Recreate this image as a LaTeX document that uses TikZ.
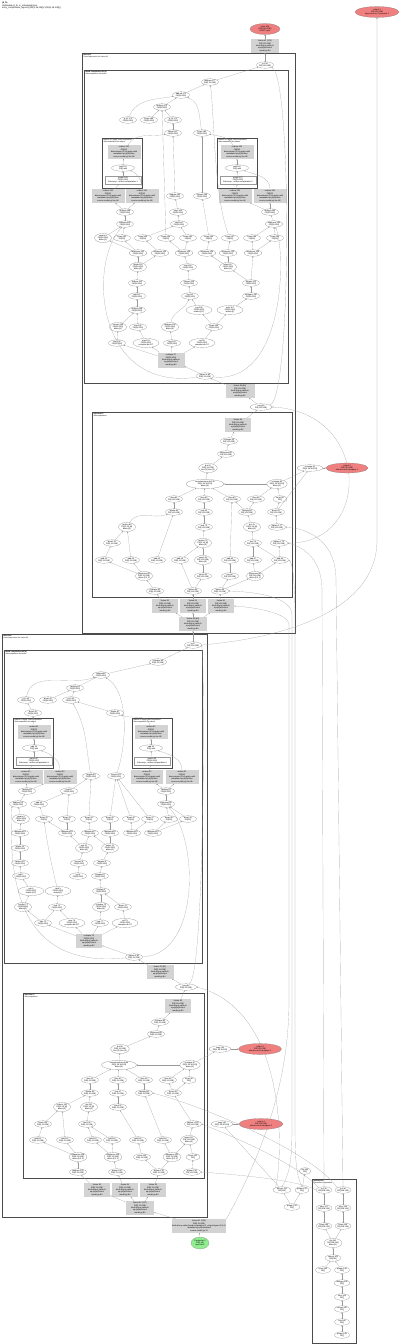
\documentclass[tikz,border=0pt]{standalone}
\usepackage{fontspec}
\setmainfont{Liberation Sans}
\usetikzlibrary{shapes.geometric,arrows.meta}
\definecolor{redfill}{HTML}{F08080}
\definecolor{greenfill}{HTML}{90EE90}
\definecolor{grayfill}{HTML}{D3D3D3}
\newcommand{\tnf}{\fontsize{2}{2.3}\selectfont}
\newcommand{\glr}[2]{#1\\#2\\kind=kLoop calls=fc\\op=jit(fn)/ln/mul\\model.py:84}
\newcommand{\grd}[2]{#1\\#2\\dimensions=\{1\} to.apply=add\\metadata op=jit(fn)/sum\\source model.py line 88}
\begin{document}
\begin{tikzpicture}[x=1pt,y=-1pt,font=\tnf,
 el/.style={ellipse,draw=black!55,line width=0.15pt,inner sep=0pt,minimum width=17,minimum height=6.5,align=center},
 elt/.style={el,minimum height=9},
 elw/.style={el,minimum width=26},
 gbox/.style={rectangle,fill=grayfill,draw=none,inner sep=0.4pt,align=center,minimum width=26,minimum height=13.5},
 wbox/.style={rectangle,draw=black!40,line width=0.15pt,inner sep=0.4pt,align=center,minimum width=36,minimum height=8},
 rnode/.style={el,fill=redfill,minimum width=30,minimum height=11},
 gnode/.style={el,fill=greenfill,minimum width=18,minimum height=12},
 clo/.style={draw=black!70,line width=0.6pt},
 cli/.style={draw=black!70,line width=0.55pt},
 cls/.style={draw=black!70,line width=0.5pt},
 clab/.style={anchor=north west,align=left,inner sep=0.3pt,font=\fontsize{1.8}{2.1}\selectfont},
 ed/.style={draw=black!40,line width=0.15pt,-{Stealth[length=1.4pt,width=1.2pt]}}]
\useasboundingbox (0,0) rectangle (400,1344);

% ---------- clusters ----------
\draw[clo] (82,53) rectangle (295,633);
\node[clab] (lC1) at (83,54) {\textbf{fusion.41}\\Fused expression for fusion.41};
\draw[cli] (84,70) rectangle (288,383);
\node[clab] (lC1a) at (85,71) {\textbf{fused.computation.41 (9)}\\Subcomputation for fusion};
\draw[cls] (102,138) rectangle (142,188);
\node[clab] (lS1) at (103,139) {reduce.161 apply: add.computation\\Subcomputation for reduce};
\draw[cls] (217,138) rectangle (257,188);
\node[clab] (lS2) at (218,139) {reduce.162 apply: add.computation\\Subcomputation for reduce};
\draw[cli] (92,412) rectangle (292,597);
\node[clab] (lC1b) at (93,413) {\textbf{attention.87}\\Subcomputation};
\draw[clo] (2,634) rectangle (207,1217);
\node[clab] (lC2) at (3,635) {\textbf{fusion.40}\\Fused expression for fusion.40};
\draw[cli] (4,650) rectangle (202,963);
\node[clab] (lC2a) at (5,651) {\textbf{fused.computation.40 (8)}\\Subcomputation for fusion};
\draw[cls] (13,718) rectangle (53,768);
\node[clab] (lS3) at (14,719) {reduce.61 apply: add.computation\\Subcomputation for reduce};
\draw[cls] (132,718) rectangle (172,768);
\node[clab] (lS4) at (133,719) {reduce.62 apply: add.computation\\Subcomputation for reduce};
\draw[cli] (23,993) rectangle (204,1178);
\node[clab] (lC2b) at (24,994) {\textbf{attention.27}\\Subcomputation};
\draw[cli] (312,1179) rectangle (356,1343);
\node[clab] (lC3) at (313,1180) {\textbf{param.pack}\\Parameter computation};

% ---------- top level ----------
\node[anchor=north west,align=left,inner sep=0pt,font=\fontsize{2.2}{2.6}\selectfont] (hdr) at (2,2) {\textbf{jit\_fn}\\HloModule jit\_fn, is\_scheduled=true\\entry\_computation\_layout=\{(f32[1,18,128])->(f32[1,18,128])\}};
\node[rnode] (outA) at (265,29) {tuple.180\\(f32[1,18,128])\\ROOT tuple};
\node[rnode,minimum width=44] (outB) at (377,12) {output.1\\f32[1,18,128]\\layernorm.out, transpose.1};
\node[gbox,minimum width=28] (tf1) at (265,46) {\glr{fusion.41 (179)}{f32[1,18,128]}};

% ---------- C1a ----------
\node[el] (c1ip) at (265,65) {ip.108\\f32[1,18,128]};
\node[el] (a1) at (210,82) {reshape.177\\f32[1,18,128]};
\node[el] (a2) at (181,95) {add.ad.171\\f32[18,128]};
\node[el] (a3) at (162,107) {multiply.170\\f32[18,128]};
\node[el] (a4) at (128,120) {p.12.173\\f32[18,128]};
\node[el] (a5) at (149,120) {bcast.169\\f32[18,128]};
\node[el] (a6) at (173,120) {p.13.172\\f32[18,128]};
\node[el] (a7) at (173,133) {divide.167\\f32[18,128]};
\node[el] (a8) at (202,133) {bcast.165\\f32[18,128]};
\node[gbox,minimum width=33] (s1g) at (124,152) {\grd{reduce.161}{f32[18]}};
\node[el,minimum width=23] (s1e) at (123,168) {add.159\\f32[] add};
\node[wbox] (s1w) at (123,180) {param.158\\f32[18,128]\\Subcomp.: reduce.computation.1};
\node[gbox,minimum width=33] (s2g) at (237,152) {\grd{reduce.162}{f32[18]}};
\node[el,minimum width=23] (s2e) at (237,168) {add.160\\f32[] add};
\node[wbox] (s2w) at (238,180) {param.157\\f32[18,128]\\Subcomp.: reduce.computation.2};
\node[gbox,minimum width=33] (g1) at (108,196) {\grd{reduce.153}{f32[18]}};
\node[gbox,minimum width=33] (g2) at (142,196) {\grd{reduce.154}{f32[18]}};
\node[gbox,minimum width=33] (g3) at (235,196) {\grd{reduce.155}{f32[18]}};
\node[gbox,minimum width=33] (g4) at (270,196) {\grd{reduce.156}{f32[18]}};
\node[el] (b1) at (175,196) {negate.160\\f32[18,128]};
\node[el] (b2) at (202,196) {convert.163\\f32[18,128]};
\node[el] (c1) at (125,212) {multiply.148\\f32[18,128]};
\node[el] (c2) at (178,212) {rsqrt.146\\f32[18,128]};
\node[el] (c3) at (270,212) {multiply.150\\f32[18,128]};
\node[el] (d1) at (125,224) {subtract.145\\f32[18,128]};
\node[el] (d2) at (179,224) {add.144\\f32[18,128]};
\node[el] (d3) at (274,224) {exponent.149\\f32[18,128]};
\node[elt] (e1) at (103,238) {param.3\\f32[18,128]\\dims=\{1\}};
\foreach \i/\x in {2/122,3/143,4/166,5/188,6/209,7/230,8/252,9/275}
  \node[el] (e\i) at (\x,238) {bcast.13\i\\f32[18]};
\foreach \i/\x in {1/138,2/160,3/184,4/207,5/228,6/253}
  \node[el] (f\i) at (\x,253) {maximum.12\i\\f32[18,128]};
\node[elt] (gg1) at (138,267) {divide.119\\f32[18,128]\\dims=\{0\}};
\node[el] (gg2) at (188,267) {sqrt.118\\f32[18,128]};
\node[elt] (gg3) at (228,267) {select.117\\f32[18,128]\\dims=\{1\}};
\node[el] (h1) at (137,283) {reduce.115\\f32[18,128]};
\node[el] (h2) at (189,283) {convert.114\\f32[18,128]};
\node[el] (h3) at (251,283) {negate.113\\f32[18,128]};
\node[el] (i1) at (137,296) {add.112\\f32[18,128]};
\node[el] (i2) at (190,296) {log.111\\f32[18,128]};
\node[el] (i3) at (251,296) {compare.110\\f32[18,128]};
\node[el] (j1) at (137,310) {multiply.109\\f32[18,128]};
\node[elw] (j2) at (199,310) {exp.108\\f32[18,128]\\bcast=\{0,1\}};
\node[elw] (j3) at (230,310) {tanh.107\\f32[18,128]\\bcast=\{1\}};
\node[elt] (k1) at (118,327) {convert.106\\f32[18,128]\\dims=\{1\}};
\node[el] (k2) at (138,327) {sub.105\\f32[18,128]};
\node[elt] (k3) at (170,327) {reshape.104\\f32[18,128]\\dims=\{0\}};
\node[el] (k4) at (214,327) {bcast.103\\f32[18,128]};
\node[el] (l1) at (117,343) {abs.102\\f32[18,128]};
\node[elw] (l2) at (146,343) {max.101\\f32[18,128]\\compare.dir=GT};
\node[el] (l3) at (172,343) {neg.100\\f32[18,128]};
\node[elw] (l4) at (202,343) {sel.99\\f32[18,128]\\compare.dir=LT};
\node[gbox,minimum width=27,minimum height=15] (gfa) at (171,360) {\glr{reshape.97}{f32[18,128]}};
\node[el] (c1out) at (205,376) {param.0.98\\f32[1,18,128]};
\node[gbox,minimum width=29] (gfb) at (240,391) {\glr{fusion.39 (96)}{f32[1,18,128]}};
\node[el,minimum width=22] (c1mid) at (261,407) {copy.95\\f32[1,18,128]};

% ---------- C1b ----------
\node[gbox] (m1) at (238,425) {\glr{fusion.38}{f32[1,18,128]}};
\node[el] (m2) at (229,441) {reshape.93\\f32[1,18,128]};
\node[el] (m3) at (226,454) {transpose.92\\f32[1,18,128]};
\node[elt] (m4) at (208,468) {dot.91\\f32[1,18,128]\\lhs=\{2\} rhs=\{1\}};
\node[elt,minimum width=38] (m5) at (205,484) {concatenate.multi.135\\f32[1,18,18,128]\\dims=\{3\}};
\node[elt] (m6) at (277,484) {reshape.89\\f32[1,18,18,128]\\dims=\{1\}};
\foreach \i/\x in {1/174,2/204,3/232,4/256}
  \node[el] (n\i) at (\x,499) {slice.8\i\\f32[1,18,128]};
\node[el,minimum width=14] (n5) at (280,499) {const.85\\f32[]};
\node[el] (o1) at (174,512) {divide.84\\f32[1,18,128]};
\node[el] (o2) at (204,512) {exp.83\\f32[1,18,128]};
\node[el] (o3) at (247,512) {multiply.82\\f32[1,18,128]};
\node[el] (o4) at (276,512) {bcast.81\\f32[1,18,128]};
\node[elt] (p1) at (127,527) {reduce.80\\f32[1,18,18]\\dims=\{3\}};
\node[el] (p2) at (204,527) {sub.79\\f32[1,18,128]};
\node[elt] (p3) at (252,527) {dot.78\\f32[1,18,18]\\dims=\{2\}};
\node[el] (p4) at (277,527) {param.2.77\\f32[1,18,128]};
\node[el] (q1) at (112,543) {bcast.76\\f32[1,18,128]};
\node[elt] (q2) at (203,543) {reduce.75\\f32[1,18,18]\\dims=\{3\}};
\node[el] (q3) at (253,543) {mul.74\\f32[1,18,128]};
\node[el] (q4) at (279,543) {param.1.73\\f32[1,18,128]};
\foreach \i/\x in {1/104,2/131,3/157,4/180,6/230,7/253,8/280}
  \node[el] (r\i) at (\x,560) {add.6\i\\f32[1,18,128]};
\node[elt] (r5) at (203,560) {select.65\\f32[1,18,128]\\dims=\{0\}};
\node[elt] (ss1) at (144,576) {transpose.59\\f32[1,18,128]\\dims=\{0,2,1\}};
\node[el] (ss2) at (203,576) {const.58\\f32[1,18,128]};
\node[el] (ss3) at (230,576) {copy.57\\f32[1,18,128]};
\node[elt] (ss4) at (255,576) {transpose.56\\f32[1,18,128]\\dims=\{0,2,1\}};
\node[el] (u1) at (155,591) {reshape.55\\f32[1,18,128]};
\node[el] (u2) at (193,591) {param.54\\f32[1,18,128]};
\node[el] (u3) at (220,591) {param.53\\f32[1,18,128]};
\node[gbox] (v1) at (165,606) {\glr{fusion.52}{f32[1,18,128]}};
\node[gbox] (v2) at (193,606) {\glr{fusion.51}{f32[1,18,128]}};
\node[gbox] (v3) at (221,606) {\glr{fusion.50}{f32[1,18,128]}};
\node[gbox,minimum width=28] (v4) at (193,624) {\glr{fusion.49 (48)}{f32[1,18,128]}};
\node[el,minimum width=26] (w1) at (310,468) {reshape.92\\f32[1,18,18,128]};
\node[rnode,minimum width=42,minimum height=10] (redC) at (347,468) {output.2\\f32[1,18,128]\\attention.out.transpose.1};

% ---------- C2a ----------
\node[el] (c2ip) at (193,645) {ip.47\\f32[1,18,128]};
\node[el] (xA1) at (158,662) {reshape.46\\f32[1,18,128]};
\node[el] (xA2) at (101,675) {add.ad.45\\f32[18,128]};
\node[el] (xA3) at (75,688) {multiply.44\\f32[18,128]};
\node[el] (xA4) at (26,700) {p.12.43\\f32[18,128]};
\node[el] (xA5) at (48,700) {bcast.42\\f32[18,128]};
\node[el] (xA6) at (71,700) {p.13.41\\f32[18,128]};
\node[el] (xA7) at (115,713) {divide.40\\f32[18,128]};
\node[el] (xA8) at (33,713) {bcast.39\\f32[18,128]};
\node[gbox,minimum width=33] (xs3g) at (34,732) {\grd{reduce.61}{f32[18]}};
\node[el,minimum width=23] (xs3e) at (34,748) {add.38\\f32[] add};
\node[wbox] (xs3w) at (34,761) {param.37\\f32[18,128]\\Subcomp.: reduce.computation.3};
\node[gbox,minimum width=33] (xs4g) at (151,732) {\grd{reduce.62}{f32[18]}};
\node[el,minimum width=23] (xs4e) at (151,748) {add.36\\f32[] add};
\node[wbox] (xs4w) at (152,761) {param.35\\f32[18,128]\\Subcomp.: reduce.computation.4};
\node[gbox,minimum width=33] (xG1) at (26,777) {\grd{reduce.34}{f32[18]}};
\node[gbox,minimum width=33] (xG2) at (60,777) {\grd{reduce.33}{f32[18]}};
\node[gbox,minimum width=32] (xG3) at (147,777) {\grd{reduce.32}{f32[18]}};
\node[gbox,minimum width=33] (xG4) at (182,777) {\grd{reduce.31}{f32[18]}};
\node[el] (xB1) at (91,776) {negate.30\\f32[18,128]};
\node[el] (xB2) at (116,776) {convert.29\\f32[18,128]};
\node[el] (xC1) at (27,791) {multiply.28\\f32[18,128]};
\node[el] (xC2) at (69,791) {rsqrt.27\\f32[18,128]};
\node[el] (xC3) at (166,791) {multiply.26\\f32[18,128]};
\node[el] (xD1) at (18,804) {subtract.25\\f32[18,128]};
\node[el] (xD2) at (39,804) {add.24\\f32[18,128]};
\node[el] (xD3) at (166,804) {exponent.23\\f32[18,128]};
\node[elt] (xE1) at (21,819) {param.3\\f32[18,128]\\dims=\{1\}};
\foreach \i/\x in {2/44,3/67,4/89,5/110,6/131,7/150,8/169,9/188}
  \node[el] (xE\i) at (\x,819) {bcast.2\i\\f32[18]};
\node[el] (xF1) at (20,833) {maximum.19\\f32[18,128]};
\node[el] (xF2) at (67,833) {maximum.18\\f32[18,128]};
\node[el] (xF3) at (90,833) {maximum.17\\f32[18,128]};
\node[el] (xF4) at (110,833) {maximum.16\\f32[18,128]};
\node[el] (xF5) at (132,833) {maximum.15\\f32[18,128]};
\node[el] (xF6) at (153,833) {maximum.14\\f32[18,128]};
\node[el] (xH1) at (20,848) {divide.13\\f32[18,128]};
\node[elt] (xH2) at (84,848) {sqrt.12\\f32[18,128]\\dims=\{0\}};
\node[elt] (xH3) at (110,848) {select.11\\f32[18,128]\\dims=\{1\}};
\node[el] (xI1) at (20,863) {reduce.10\\f32[18,128]};
\node[el] (xI2) at (79,863) {convert.9\\f32[18,128]};
\node[el] (xI3) at (102,863) {negate.8\\f32[18,128]};
\node[el] (xJ1) at (21,876) {add.7\\f32[18,128]};
\node[el] (xJ2) at (78,876) {log.6\\f32[18,128]};
\node[el] (xJ3) at (100,876) {compare.5\\f32[18,128]};
\node[elw] (xK1) at (31,891) {exp.4\\f32[18,128]\\bcast=\{0,1\}};
\node[elw] (xK2) at (58,891) {tanh.3\\f32[18,128]\\bcast=\{1\}};
\node[el] (xK3) at (101,891) {multiply.2\\f32[18,128]};
\node[elt] (xL1) at (23,907) {convert.71\\f32[18,128]\\dims=\{1\}};
\node[el] (xL2) at (57,907) {sub.72\\f32[18,128]};
\node[elt] (xL3) at (101,907) {reshape.73\\f32[18,128]\\dims=\{0\}};
\node[el] (xL4) at (123,907) {bcast.74\\f32[18,128]};
\node[el] (xM1) at (43,923) {abs.75\\f32[18,128]};
\node[elw] (xM2) at (72,923) {max.76\\f32[18,128]\\compare.dir=GT};
\node[el] (xM3) at (100,923) {neg.77\\f32[18,128]};
\node[elw] (xM4) at (125,923) {sel.78\\f32[18,128]\\compare.dir=LT};
\node[gbox,minimum width=26,minimum height=14] (xGA) at (89,941) {\glr{reshape.79}{f32[18,128]}};
\node[el] (c2out) at (134,957) {param.0.80\\f32[1,18,128]};
\node[gbox,minimum width=27] (xGB) at (160,972) {\glr{fusion.37 (81)}{f32[1,18,128]}};
\node[el,minimum width=21] (c2mid) at (186,987) {copy.82\\f32[1,18,128]};

% ---------- C2b ----------
\node[gbox] (yN1) at (178,1006) {\glr{fusion.36}{f32[1,18,128]}};
\node[el] (yN2) at (160,1022) {reshape.83\\f32[1,18,128]};
\node[el] (yN3) at (156,1034) {transpose.84\\f32[1,18,128]};
\node[elt] (yN4) at (120,1049) {dot.85\\f32[1,18,128]\\lhs=\{2\} rhs=\{1\}};
\node[elt,minimum width=35] (yN5) at (119,1065) {concatenate.multi.86\\f32[1,18,18,128]\\dims=\{3\}};
\node[elt] (yO6) at (190,1065) {reshape.87\\f32[1,18,18,128]\\dims=\{1\}};
\foreach \i/\x in {1/90,2/118,3/144,4/168}
  \node[el] (yO\i) at (\x,1080) {slice.9\i\\f32[1,18,128]};
\node[el,minimum width=14] (yO5) at (189,1080) {const.95\\f32[]};
\node[el] (yP1) at (90,1093) {divide.96\\f32[1,18,128]};
\node[el] (yP2) at (118,1093) {exp.97\\f32[1,18,128]};
\node[el] (yP3) at (144,1093) {multiply.98\\f32[1,18,128]};
\node[el] (yP4) at (173,1093) {bcast.99\\f32[1,18,128]};
\node[elt] (yQ1) at (62,1107) {reduce.100\\f32[1,18,18]\\dims=\{3\}};
\node[elt] (yQ2) at (89,1107) {dot.101\\f32[1,18,18]\\dims=\{2\}};
\node[el] (yQ3) at (118,1107) {sub.102\\f32[1,18,128]};
\node[el] (yR1) at (43,1124) {bcast.103\\f32[1,18,128]};
\node[el] (yR2) at (87,1124) {mul.104\\f32[1,18,128]};
\node[el] (yR3) at (193,1124) {param.1.105\\f32[1,18,128]};
\foreach \i/\x in {1/38,2/65,3/93,4/112,5/138,6/163}
  \node[el] (yS\i) at (\x,1140) {add.11\i\\f32[1,18,128]};
\node[elt] (yS7) at (189,1140) {select.117\\f32[1,18,128]\\dims=\{0\}};
\node[elt] (yT1) at (78,1157) {transpose.118\\f32[1,18,128]\\dims=\{0,2,1\}};
\node[elt] (yT2) at (113,1157) {transpose.119\\f32[1,18,128]\\dims=\{0,2,1\}};
\node[el] (yT3) at (142,1157) {const.120\\f32[1,18,128]};
\node[elt] (yT4) at (172,1157) {transpose.121\\f32[1,18,128]\\dims=\{0,2,1\}};
\node[el,minimum width=14] (yT5) at (193,1157) {const.122\\f32[]};
\node[el] (yU1) at (78,1172) {reshape.123\\f32[1,18,128]};
\node[el] (yU2) at (117,1172) {param.124\\f32[1,18,128]};
\node[el] (yU3) at (159,1172) {param.125\\f32[1,18,128]};
\node[el] (yU4) at (192,1172) {param.126\\f32[1,18,128]};
\node[gbox] (yV1) at (97,1190) {\glr{fusion.35}{f32[1,18,128]}};
\node[gbox] (yV2) at (125,1190) {\glr{fusion.34}{f32[1,18,128]}};
\node[gbox] (yV3) at (153,1190) {\glr{fusion.33}{f32[1,18,128]}};
\node[gbox,minimum width=28] (yV4) at (140,1208) {\glr{fusion.32 (127)}{f32[1,18,128]}};

% ---------- bottom / right ----------
\node[gbox,minimum width=47] (fg) at (199,1226) {fusion.31 (128)\\f32[1,18,128]\\kind=kLoop calls=fused.computation.3, output.layout=\{2,1,0\}\\metadata op=jit(fn)/embed\\source model.py:12};
\node[gnode] (gn) at (200,1243) {Parameter 0\\f32[1,18]\\input.ids.0};
\node[el,minimum width=22] (tX1) at (220,1049) {copy.129\\f32[1,18,18,128]};
\node[rnode,minimum width=43] (redE) at (260,1049) {output.3\\f32[1,18,128]\\attention.out.transpose.2};
\node[el,minimum width=22] (tX2) at (222,1124) {copy.130\\f32[1,18,18,128]};
\node[rnode,minimum width=44] (redD) at (261,1124) {output.4\\f32[1,18,128]\\attention.out.transpose.3};
\node[el,minimum width=18] (tY1) at (282,1190) {bitcast.131\\f32[128]};
\node[el,minimum width=14] (tY2) at (302,1190) {param.132\\f32[]};
\node[el,minimum width=16] (tY3) at (292,1207) {param.133\\f32[]};
\node[el,minimum width=12] (tY4) at (305,1171) {dot.134\\f32[]};
\node[el,minimum width=16] (tZ1) at (324,1190) {ip.135\\f32[128,128]};
\node[el,minimum width=16] (tZ2) at (343,1190) {ip.136\\f32[128,128]};
\node[el,minimum width=16] (tZ3) at (324,1208) {slice.137\\f32[128,128]};
\node[el,minimum width=16] (tZ4) at (343,1208) {slice.138\\f32[128,128]};
\node[el,minimum width=16] (tZ5) at (324,1226) {bcast.139\\f32[128,128]};
\node[el,minimum width=16] (tZ6) at (343,1226) {bcast.140\\f32[128,128]};
\node[elt,minimum width=18] (tZ7) at (333,1243) {dot.141\\f32[128,256]\\dims=\{1\}};
\node[el,minimum width=16] (tZ8) at (333,1258) {concat.142\\f32[256]};
\node[el,minimum width=15] (tZ9) at (323,1270) {const.143\\f32[]};
\node[el,minimum width=15] (tZ10) at (342,1270) {param.144\\f32[]};
\node[el,minimum width=15] (tZ11) at (342,1283) {reshape.145\\f32[]};
\node[el,minimum width=15] (tZ12) at (342,1297) {slice.146\\f32[]};
\node[el,minimum width=15] (tZ13) at (342,1309) {convert.147\\f32[]};
\node[el,minimum width=15] (tZ14) at (342,1322) {iota.148\\f32[]};
\node[el,minimum width=15] (tZ15) at (342,1335) {param.149\\f32[]};

% ---------- edges: top ----------
\draw[ed] (c1ip) -- (tf1);
\draw[ed] (tf1) -- (outA);
% C1a
\draw[ed] (a1) -- (c1ip);
\draw[ed] (a2) -- (a1);
\draw[ed] (a3) -- (a2);
\draw[ed] (a4) to[out=70,in=190] (a2);
\draw[ed] (a5) -- (a3);
\draw[ed] (a6) -- (a3);
\draw[ed] (a7) -- (a6);
\draw[ed] (a8) to[out=100,in=-20] (a2);
\draw[ed] (s1g) to[out=60,in=190] (a7);
\draw[ed] (s2g) to[out=120,in=-10] (a8);
\draw[ed] (s1e) -- (s1g);
\draw[ed] (s1w) -- (s1e);
\draw[ed] (g1) -- (s1w);
\draw[ed] (g2) to[out=90,in=-20] (s1e);
\draw[ed] (s2e) -- (s2g);
\draw[ed] (s2w) -- (s2e);
\draw[ed] (g3) -- (s2w);
\draw[ed] (g4) to[out=90,in=-20] (s2e);
\draw[ed] (b1) -- (a7);
\draw[ed] (b2) -- (a8);
\draw[ed] (c1) -- (g1);
\draw[ed] (c1) -- (g2);
\draw[ed] (d1) -- (c1);
\draw[ed] (c2) -- (b1);
\draw[ed] (d2) -- (c2);
\draw[ed] (c3) -- (g3);
\draw[ed] (c3) -- (g4);
\draw[ed] (d3) -- (c3);
\draw[ed] (e1) -- (d1);
\draw[ed] (e2) -- (d1);
\draw[ed] (e3) -- (d2);
\draw[ed] (e4) -- (a3);
\draw[ed] (e5) -- (d2);
\draw[ed] (e6) -- (b2);
\draw[ed] (e7) .. controls (214,200) and (214,110) .. (a1);
\draw[ed] (e8) -- (d3);
\draw[ed] (e9) -- (d3);
\draw[ed] (f1) -- (e1);
\draw[ed] (f1) -- (e2);
\draw[ed] (f2) -- (e3);
\draw[ed] (f3) -- (e4);
\draw[ed] (f3) -- (e5);
\draw[ed] (f4) -- (e6);
\draw[ed] (f5) -- (e7);
\draw[ed] (f6) -- (e8);
\draw[ed] (f6) -- (e9);
\draw[ed] (gg1) -- (f1);
\draw[ed] (gg1) -- (f2);
\draw[ed] (gg2) -- (f3);
\draw[ed] (gg3) -- (f4);
\draw[ed] (gg3) -- (f5);
\draw[ed] (h1) -- (gg1);
\draw[ed] (h2) -- (gg2);
\draw[ed] (h3) -- (gg3);
\draw[ed] (h3) -- (f6);
\draw[ed] (i1) -- (h1);
\draw[ed] (i2) -- (h2);
\draw[ed] (i3) -- (h3);
\draw[ed] (j1) -- (i1);
\draw[ed] (j2) -- (i2);
\draw[ed] (j3) -- (i3);
\draw[ed] (k1) -- (j1);
\draw[ed] (k2) -- (j1);
\draw[ed] (k3) to[out=80,in=-110] (i2);
\draw[ed] (k4) -- (j2);
\draw[ed] (k4) -- (j3);
\draw[ed] (l1) -- (k1);
\draw[ed] (l2) -- (k2);
\draw[ed] (l3) -- (k3);
\draw[ed] (l4) -- (k4);
\draw[ed] (gfa) -- (l1);
\draw[ed] (gfa) -- (l2);
\draw[ed] (gfa) -- (l3);
\draw[ed] (gfa) -- (l4);
\draw[ed] (c1out) -- (gfa);
\draw[ed] (c1out) .. controls (95,392) and (88,262) .. (d1);
\draw[ed] (c1out) .. controls (286,385) and (286,250) .. (d3);
\draw[ed] (gfb) -- (c1out);
\draw[ed] (c1mid) -- (gfb);
\draw[ed] (c1mid) .. controls (292,400) and (292,75) .. (c1ip);
% C1b
\draw[ed] (m1) -- (c1mid);
\draw[ed] (m2) -- (m1);
\draw[ed] (m3) -- (m2);
\draw[ed] (m4) -- (m3);
\draw[ed] (m5) -- (m4);
\draw[ed] (m6) -- (m5);
\draw[ed] (n1) -- (m5);
\draw[ed] (n2) -- (m5);
\draw[ed] (n3) -- (m5);
\draw[ed] (n4) -- (m6);
\draw[ed] (n5) -- (m6);
\draw[ed] (o1) -- (n1);
\draw[ed] (o2) -- (n2);
\draw[ed] (o3) -- (n3);
\draw[ed] (o3) -- (n4);
\draw[ed] (o4) -- (n5);
\draw[ed] (m6) -- (w1);
\draw[ed] (o4) -- (w1);
\draw[ed] (w1) -- (redC);
\draw[ed] (p1) to[out=60,in=200] (o1);
\draw[ed] (p2) -- (o2);
\draw[ed] (p3) -- (o3);
\draw[ed] (p4) -- (o4);
\draw[ed] (q1) -- (p1);
\draw[ed] (q2) -- (p2);
\draw[ed] (q3) -- (p3);
\draw[ed] (r1) -- (q1);
\draw[ed] (r2) -- (p1);
\draw[ed] (r3) -- (o1);
\draw[ed] (r4) -- (q2);
\draw[ed] (r5) -- (q2);
\draw[ed] (r6) -- (n3);
\draw[ed] (r7) -- (q3);
\draw[ed] (r8) -- (q3);
\draw[ed] (r8) -- (q4);
\draw[ed] (ss1) -- (r1);
\draw[ed] (ss1) -- (r2);
\draw[ed] (ss2) -- (r5);
\draw[ed] (ss3) -- (r6);
\draw[ed] (ss4) -- (r7);
\draw[ed] (ss4) -- (r8);
\draw[ed] (u1) -- (ss1);
\draw[ed] (u2) -- (ss2);
\draw[ed] (u2) -- (r4);
\draw[ed] (u3) -- (ss3);
\draw[ed] (u3) -- (ss4);
\draw[ed] (v1) -- (u1);
\draw[ed] (v2) -- (u2);
\draw[ed] (v3) -- (u3);
\draw[ed] (v4) -- (v1);
\draw[ed] (v4) -- (v2);
\draw[ed] (v4) -- (v3);
\draw[ed] (c2ip) -- (v4);
\draw[ed] (q4.east) .. controls (372,545) and (372,412) .. (c1mid.east);
% C2a
\draw[ed] (xA1) -- (c2ip);
\draw[ed] (xA2) -- (xA1);
\draw[ed] (xA3) -- (xA2);
\draw[ed] (xA4) to[out=80,in=200] (xA2);
\draw[ed] (xA5) -- (xA3);
\draw[ed] (xA6) -- (xA3);
\draw[ed] (xA7) -- (xA6);
\draw[ed] (xA8) -- (xA4);
\draw[ed] (xs3g) -- (xA8);
\draw[ed] (xs4g) to[out=100,in=-20] (xA7);
\draw[ed] (xs3e) -- (xs3g);
\draw[ed] (xs3w) -- (xs3e);
\draw[ed] (xG1) -- (xs3w);
\draw[ed] (xG2) to[out=90,in=-20] (xs3e);
\draw[ed] (xs4e) -- (xs4g);
\draw[ed] (xs4w) -- (xs4e);
\draw[ed] (xG3) -- (xs4w);
\draw[ed] (xG4) to[out=90,in=-20] (xs4e);
\draw[ed] (xB1) to[out=100,in=-60] (xA6);
\draw[ed] (xB2) .. controls (128,740) and (128,690) .. (xA2);
\draw[ed] (xC1) -- (xG1);
\draw[ed] (xC1) -- (xG2);
\draw[ed] (xD1) -- (xC1);
\draw[ed] (xC2) -- (xB1);
\draw[ed] (xD2) -- (xC2);
\draw[ed] (xC3) -- (xG3);
\draw[ed] (xC3) -- (xG4);
\draw[ed] (xD3) -- (xC3);
\draw[ed] (xE1) -- (xD1);
\draw[ed] (xE2) -- (xD2);
\draw[ed] (xE3) -- (xC2);
\draw[ed] (xE4) -- (xB1);
\draw[ed] (xE5) -- (xB2);
\draw[ed] (xE6) -- (xB2);
\draw[ed] (xE7) -- (xB2);
\draw[ed] (xE8) -- (xD3);
\draw[ed] (xE9) -- (xD3);
\draw[ed] (xF1) -- (xE1);
\draw[ed] (xF2) -- (xE2);
\draw[ed] (xF2) -- (xE3);
\draw[ed] (xF3) -- (xE4);
\draw[ed] (xF4) -- (xE5);
\draw[ed] (xF5) -- (xE6);
\draw[ed] (xF5) -- (xE7);
\draw[ed] (xF6) -- (xE8);
\draw[ed] (xF6) -- (xE9);
\draw[ed] (xH1) -- (xF1);
\draw[ed] (xH2) -- (xF2);
\draw[ed] (xH2) -- (xF3);
\draw[ed] (xH3) -- (xF3);
\draw[ed] (xH3) -- (xF4);
\draw[ed] (xI1) -- (xH1);
\draw[ed] (xI2) -- (xH2);
\draw[ed] (xI3) -- (xH3);
\draw[ed] (xJ1) -- (xI1);
\draw[ed] (xJ2) -- (xI2);
\draw[ed] (xJ3) -- (xI3);
\draw[ed] (xK1) -- (xJ1);
\draw[ed] (xK2) .. controls (50,860) and (46,835) .. (xE2);
\draw[ed] (xK3) -- (xJ3);
\draw[ed] (xL1) -- (xK1);
\draw[ed] (xL2) -- (xK2);
\draw[ed] (xL3) -- (xK3);
\draw[ed] (xL4) -- (xK3);
\draw[ed] (xM1) -- (xL1);
\draw[ed] (xM1) -- (xL2);
\draw[ed] (xM2) -- (xL2);
\draw[ed] (xM3) -- (xL3);
\draw[ed] (xM4) -- (xL4);
\draw[ed] (xGA) -- (xM1);
\draw[ed] (xGA) -- (xM2);
\draw[ed] (xGA) -- (xM3);
\draw[ed] (xGA) -- (xM4);
\draw[ed] (c2out) -- (xGA);
\draw[ed] (c2out) .. controls (30,968) and (7,900) .. (xD1.south west);
\draw[ed] (c2out) .. controls (200,955) and (199,840) .. (xD3);
\draw[ed] (xGB) -- (c2out);
\draw[ed] (c2mid) -- (xGB);
\draw[ed] (c2mid) .. controls (205,970) and (205,662) .. (c2ip.east);
\draw[ed] (c2ip.east) .. controls (260,640) and (377,620) .. (377,540) -- (outB.south);
% C2b
\draw[ed] (yN1) -- (c2mid);
\draw[ed] (yN2) -- (yN1);
\draw[ed] (yN3) -- (yN2);
\draw[ed] (yN4) -- (yN3);
\draw[ed] (yN5) -- (yN4);
\draw[ed] (yO6) -- (yN5);
\draw[ed] (yO1) -- (yN5);
\draw[ed] (yO2) -- (yN5);
\draw[ed] (yO3) -- (yN5);
\draw[ed] (yO4) -- (yO6);
\draw[ed] (yO5) -- (yO6);
\draw[ed] (yO6) -- (tX1);
\draw[ed] (tX1) -- (redE);
\draw[ed] (yP1) -- (yO1);
\draw[ed] (yP2) -- (yO2);
\draw[ed] (yP3) -- (yO3);
\draw[ed] (yP4) -- (yO4);
\draw[ed] (yP4) -- (yO5);
\draw[ed] (yQ1) -- (yP1);
\draw[ed] (yQ2) -- (yP1);
\draw[ed] (yQ3) -- (yP2);
\draw[ed] (yR1) -- (yQ1);
\draw[ed] (yR2) -- (yQ2);
\draw[ed] (yR3) -- (yP4);
\draw[ed] (yS1) -- (yR1);
\draw[ed] (yS2) -- (yQ1);
\draw[ed] (yS3) -- (yR2);
\draw[ed] (yS4) -- (yR2);
\draw[ed] (yS5) -- (yQ3);
\draw[ed] (yS6) -- (yP3);
\draw[ed] (yS7) -- (yR3);
\draw[ed] (yT1) -- (yS1);
\draw[ed] (yT1) -- (yS2);
\draw[ed] (yT2) -- (yS3);
\draw[ed] (yT2) -- (yS4);
\draw[ed] (yT3) -- (yS5);
\draw[ed] (yT4) -- (yS6);
\draw[ed] (yT4) -- (yS7);
\draw[ed] (yT5) -- (yS7);
\draw[ed] (yU1) -- (yT1);
\draw[ed] (yU2) -- (yT2);
\draw[ed] (yU3) -- (yT3);
\draw[ed] (yU3) -- (yT4);
\draw[ed] (yU4) -- (yT5);
\draw[ed] (yV1) -- (yU1);
\draw[ed] (yV2) -- (yU2);
\draw[ed] (yV3) -- (yU3);
\draw[ed] (yV4) -- (yV1);
\draw[ed] (yV4) -- (yV2);
\draw[ed] (yV4) -- (yV3);
\draw[ed] (fg) -- (yV4);
\draw[ed] (gn) -- (fg);
% long connectors
\draw[ed] (fg.north east) .. controls (270,1140) and (289,1070) .. (289,1000) -- (289,625) .. controls (289,612) and (250,607) .. (v3.east);
\draw[ed] (tY1.north) .. controls (292,1170) and (292,1150) .. (292,1120) -- (292,615) .. controls (292,598) and (260,592) .. (u3.east);
\draw[ed] (tY2.north) .. controls (296,1175) and (295,1160) .. (295,1120) -- (295,620) .. controls (295,575) and (292,562) .. (r8.east);
\draw[ed] (tY1.north west) .. controls (284,1150) and (286,1010) .. (c2mid.east);
\draw[ed] (tY1) -- (tX2);
\draw[ed] (tX2) -- (redD);
\draw[ed] (tY2) -- (tY4);
\draw[ed] (tY3) -- (tY1);
\draw[ed] (tY3) -- (tY2);
\draw[ed] (tZ1.north) -- (322,590) .. controls (322,556) and (300,546) .. (q4.east);
\draw[ed] (tZ2.north) -- (336,580) .. controls (336,535) and (300,528) .. (p4.east);
\draw[ed] (tZ1.north west) .. controls (300,1165) and (230,1135) .. (yR3.east);
\draw[ed] (tZ2.north west) .. controls (310,1150) and (200,1105) .. (yP3.east);
\draw[ed] (tZ1.west) .. controls (300,1180) and (230,1174) .. (yU4.east);
% C3
\draw[ed] (tZ3) -- (tZ1);
\draw[ed] (tZ4) -- (tZ2);
\draw[ed] (tZ5) -- (tZ3);
\draw[ed] (tZ6) -- (tZ4);
\draw[ed] (tZ7) -- (tZ5);
\draw[ed] (tZ7) -- (tZ6);
\draw[ed] (tZ8) -- (tZ7);
\draw[ed] (tZ9) -- (tZ8);
\draw[ed] (tZ10) -- (tZ8);
\draw[ed] (tZ11) -- (tZ10);
\draw[ed] (tZ12) -- (tZ11);
\draw[ed] (tZ13) -- (tZ12);
\draw[ed] (tZ14) -- (tZ13);
\draw[ed] (tZ15) -- (tZ14);
\end{tikzpicture}
\end{document}
